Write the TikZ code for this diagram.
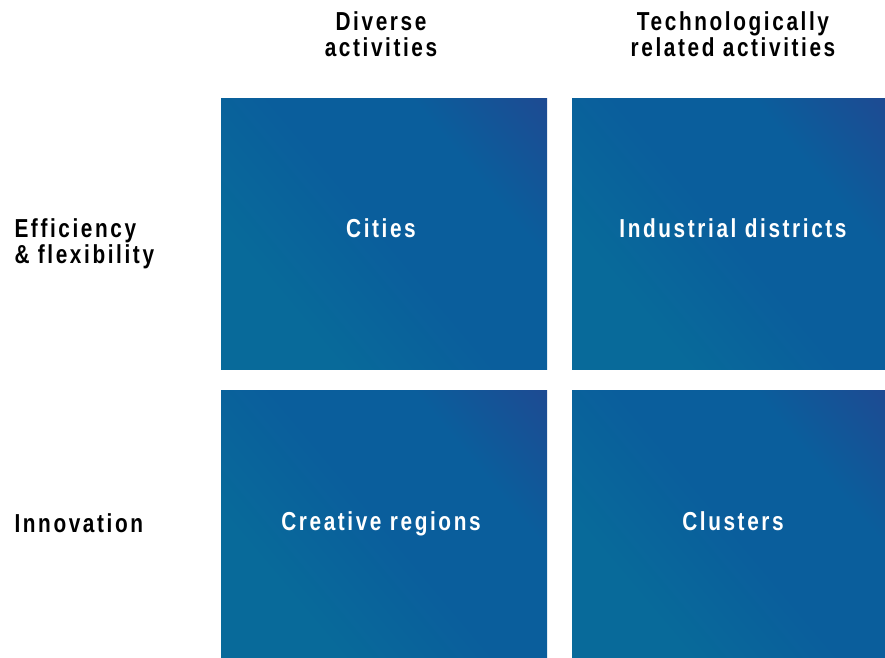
\documentclass[tikz,border=0pt]{standalone}
\usepackage{fontspec}
\setmainfont{Liberation Sans}[FakeStretch=0.8, LetterSpace=10]
\usetikzlibrary{positioning}

\definecolor{cellteal}{HTML}{086A9A}
\definecolor{cellblue}{HTML}{0A5E9C}
\definecolor{cellpurple}{HTML}{2E3A8A}
\pgfdeclarehorizontalshading{cellshade}{100bp}{color(0bp)=(cellteal); color(30bp)=(cellteal); color(50bp)=(cellblue); color(68bp)=(cellblue); color(100bp)=(cellpurple)}

\begin{document}
\begin{tikzpicture}[x=1pt,y=1pt]

\tikzstyle{cell}=[shading=cellshade, shading angle=40, draw=none]
\tikzstyle{celltext}=[text=white, font=\bfseries\fontsize{26}{26}\selectfont, text height=19pt, text depth=5pt]
\tikzstyle{head}=[text=black, font=\bfseries\fontsize{26}{26}\selectfont, align=center]
\tikzstyle{rowlabel}=[text=black, font=\bfseries\fontsize{26}{26}\selectfont, align=left, anchor=west]

\useasboundingbox (0,0) rectangle (885,657);

% the four cells
\shade[cell] (221,558) rectangle (547,288);
\shade[cell] (572,558) rectangle (885,288);
\shade[cell] (221,267) rectangle (547,0);
\shade[cell] (572,267) rectangle (885,0);

\node[head] (diverse) at (381,623) {Diverse\\activities};
\node[head] (techrel) at (733,623) {Technologically\\related activities};

\node[rowlabel] (effic) at (11,413) {Efficiency\\\& flexibility};
\node[rowlabel] (innov) at (11,134) {Innovation};

\node[celltext] (cities) at (381,427) {Cities};
\node[celltext] (indust) at (733,427) {Industrial districts};
\node[celltext] (creative) at (381,134) {Creative regions};
\node[celltext] (clusters) at (733,134) {Clusters};

\end{tikzpicture}
\end{document}
